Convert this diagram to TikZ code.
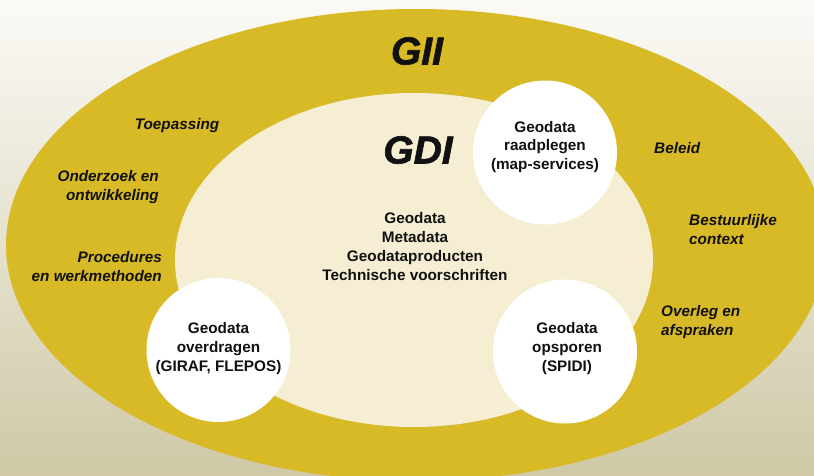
\documentclass[tikz,border=0pt]{standalone}
\usepackage{fontspec}
\setmainfont{Liberation Sans}
\newfontface\heavyfont{Liberation Sans Bold Italic}[FakeBold=1.6]
\definecolor{bgtop}{RGB}{251,250,246}
\definecolor{bgbot}{RGB}{207,201,167}
\definecolor{gold}{RGB}{216,185,38}
\definecolor{cream}{RGB}{245,238,211}
\definecolor{ink}{RGB}{17,17,17}
\tikzset{
  disc/.style={circle,fill=white,draw=none,minimum size=144pt,inner sep=0pt},
  ctext/.style={font=\bfseries\fontsize{15.3}{18.7}\selectfont,align=center,text=ink,inner sep=0pt},
  lbl/.style={font=\bfseries\itshape\fontsize{15.3}{19}\selectfont,text=ink,inner sep=0pt},
  big/.style={font=\heavyfont\fontsize{39}{40}\selectfont,text=ink,inner sep=0pt}
}
\begin{document}
\begin{tikzpicture}[x=1pt,y=-1pt]
\useasboundingbox (0,0) rectangle (814,475);
\shade[top color=bgtop,bottom color=bgbot] (0,0) rectangle (814,475);
% outer and inner ellipses
\fill[gold] (416,245) ellipse [x radius=410,y radius=236];
\fill[cream] (414,260) ellipse [x radius=239,y radius=167];
% circles
\node[disc] (c1) at (545,152.5) {};
\node[disc] (c2) at (218.5,350) {};
\node[disc] (c3) at (565,351.5) {};
% titles
\node[big] (gii) at (417,51) {GII};
\node[big] (gdi) at (418,150) {GDI};
% circle texts
\node[ctext] (t1) at (545,147) {Geodata\\raadplegen\\(map-services)};
\node[ctext] (t2) at (218.5,348.5) {Geodata\\overdragen\\(GIRAF, FLEPOS)};
\node[ctext] (t3) at (567,348.5) {Geodata\\opsporen\\(SPIDI)};
\node[ctext] (tc) at (415,246.5) {Geodata\\Metadata\\Geodataproducten\\Technische voorschriften};
% outer labels
\node[lbl] (l1) at (177,126) {Toepassing};
\node[lbl,align=right,anchor=east] (l2) at (159,187.5) {Onderzoek en\\ontwikkeling};
\node[lbl,align=right,anchor=east] (l3) at (162,266.5) {Procedures\\en werkmethoden};
\node[lbl,anchor=west] (r1) at (654,148) {Beleid};
\node[lbl,align=left,anchor=west] (r2) at (689,230) {Bestuurlijke\\context};
\node[lbl,align=left,anchor=west] (r3) at (661,322.5) {Overleg en\\afspraken};
\end{tikzpicture}
\end{document}
